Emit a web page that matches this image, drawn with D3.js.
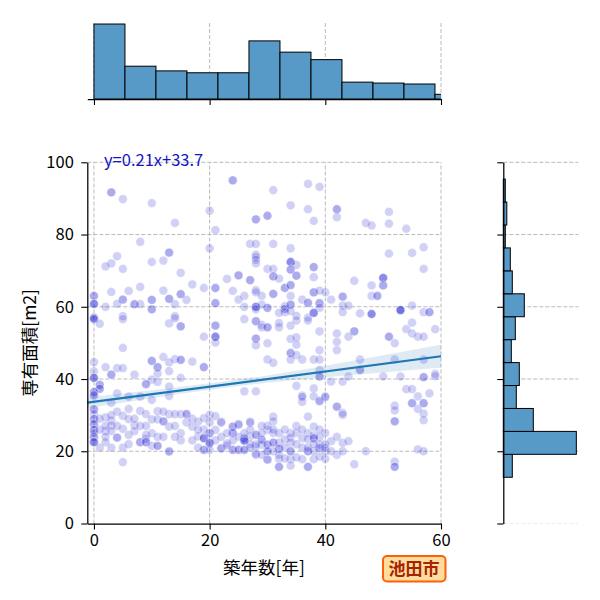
<!DOCTYPE html>
<html>
<head>
<meta charset="utf-8">
<script src="https://cdn.jsdelivr.net/npm/d3@7"></script>
<style>
  body { margin: 0; background: #fff; }
  text { font-family: "Noto Sans CJK JP", "Noto Sans", sans-serif; }
</style>
</head>
<body>
<div id="container"></div>
<script>
// 築年数[年], 専有面積[m2]
const samples = [
  [3,91.7],[3,91.7],[5,89.8],[10,88.7],[14,83.2],[20,86.6],[21,81.2],[24,95],[24,95],[28,84.2],[28,84.2],
  [30,85.2],[30,85.2],[31,92.3],[37,94],[39,93.2],[34,88.1],[37,87],[42,87],[42,87],[42,84.8],[38,83.8],
  [47,83.2],[51,86.3],[48,82.5],[51,83],[54,81.6],
  [8,78],[13,75],[13,75],[12,72.8],[10,72.4],[4,74],[3,72],[2,71.2],[5,70.5],[15,69.4],[20,76.2],[27,77.4],
  [28,77.4],[28,74.4],[28,73.8],[28,73],[28,72],[23,67.7],[25,68.7],[25,68.7],[27,67.4],[27,67.4],[17,66.2],
  [19,65.2],[21,65.2],[21,65.2],[24,64.4],[28,64.6],[28,64],[26,63],[25,62],[29,63],[3,64.1],[6,64.4],[8,65.5],
  [12,64.5],[15,63.5],[15,63.5],[13,62.2],[13,62.2],[16,61.9],[14,60.7],[10,61.9],[10,61.9],[10,59.3],[10,59.3],
  [5,62],[5,62],[4,60.8],[7,60.7],[7,60.7],[8,60.7],[2,60],[0,63],[0,63],[0,60.8],[0,60.8],[0,60.8],[21,61],
  [21,61],[26,60],[28,60],[28,60],[28,60],[28,59.3],[5,57.4],[14,57.4],[0,57],[0,57],
  [31,77.4],[34,76.2],[51,74.7],[55,74.9],[57,76.5],[57,70.5],[34,72.4],[34,72.4],[34,72.4],[34,70.3],[34,70.3],
  [35,71.6],[35,68.6],[35,68.6],[30,70.5],[31,70.5],[31,68.4],[31,68.4],[32,67.8],[38,71],[38,71],[38,68.2],
  [33,65.2],[33,65.2],[34,66],[34,66],[31,63.6],[31,63.6],[34,63],[36,62],[37,61.1],[37,61.1],[38,64],[38,64],
  [39,64.5],[40,64],[39,61],[39,61],[39,59.7],[41,62],[43,62.8],[43,62.8],[43,60.3],[44,60.3],[43,58.5],
  [45,67.2],[48,65.9],[50,68],[50,68],[50,68],[50,65.9],[50,65.9],[48,63],[49,63],[49,63],[46,58.2],[48,58],
  [48,58],[48,58],[53,59.1],[53,59.1],[53,59.1],[53,59.1],[55,60.3],[57,58.5],[58,58.5],[58,58.5],[30,59.7],
  [30,59.7],[29,60.6],[33,60.2],[33,59.4],[33,59.4],[33,58.5],[34,60.6],[34,60.6],[34,58.8],[32,58.3],[38,58.3],
  [38,58.3],[38,58.3],[35,57.5],[37,57],
  [0,56.6],[0,56.6],[1,55.3],[5,56.6],[13,55.4],[14,56.8],[15,54.6],[15,54.6],[21,54.8],[21,54.8],[21,51.7],
  [21,51.7],[21,51.7],[19,51.7],[21,50.1],[26,56.6],[28,56],[28,56],[29,55],[28,51.2],[28,51.2],[28,49.3],
  [5,48.6],[12,46.1],[14,45.5],[15,45.3],[15,45.3],[10,45],[10,45],[11,43.3],[11,43.3],[11,41.5],[13,44.6],
  [13,42.2],[17,44.8],[19,43.3],[19,43.3],[0,44.7],[0,42.1],[0,40.3],[0,40.3],[0,40.3],[2,43.3],[3,41.2],
  [3,41.2],[4,43],[5,43],[7,41.2],[10,39.8],[11,39.2],[15,40.3],[9,38.6],[9,38.6],[13,37.9],[1,38.4],[1,38.4],
  [1,37.3],[1,37.3],[0,36.4],[0,36.4],[0,35.5],[0,35.5],[4,36],[6,35.1],[8,35.1],[10,34.2],[13,35.3],[26,36.6],
  [28,36.6],[3,33.4],
  [29,54.3],[30,54.3],[30,54.3],[32,54.3],[32,55.5],[34,54.8],[35,56.2],[37,56.2],[39,53.2],[42,52.6],[45,53.2],
  [45,53.2],[44,51.7],[30,49.9],[34,51.1],[35,51.5],[35,49.5],[34,47.2],[34,47.2],[35,46.6],[36,45.4],[34,45.4],
  [38,45.4],[39,48],[39,45.4],[42,48],[42,50.3],[30,45.4],[31,44.5],[39,42.5],[39,40.7],[39,40.7],[41,39.3],
  [43,39.3],[44,40.7],[46,45.4],[46,42.5],[46,42.5],[50,40.7],[53,40.7],[57,40.5],[57,40.5],[59,41.4],[51,51.7],
  [51,51.7],[52,49.9],[54,53.8],[55,55.6],[55,52.6],[56,51.7],[57,51.7],[59,53.8],[52,45.4],[57,45.4],
  [35,38.1],[38,37.4],[38,35.2],[36,35.4],[36,33.7],[39,34],[40,35.2],[42,32.2],[43,30.6],[52,32.6],[52,31.3],
  [52,28.3],[52,28.3],[54,37.2],[55,37.2],[56,35.2],[55,33.3],[55,33.3],[57,33.3],[57,33.3],[58,36],[56,31.7],
  [57,30.4],[57,28.6],[59,40.8],[36,35],[40,35],[39,33.8],
  [0,31.6],[0,31.6],[0,30.3],[0,28.9],[0,28.9],[0,27.5],[0,27.5],[0,25.9],[0,25.9],[0,23.9],[0,23.9],[0,22.5],
  [0,22.5],[0,22.5],[0,25],[2,29.4],[3,28.5],[3,27.1],[4,31],[5,29.8],[6,31.7],[6,28.9],[2,25.6],[2,24],[3,25.6],
  [4,23.8],[4,23.8],[5,26.2],[6,24.5],[7,27.2],[7,25.6],[8,31.2],[9,30.3],[10,28.8],[11,31.1],[11,28.8],[12,28.3],
  [12,28.3],[13,30.3],[14,30.3],[13,26.8],[15,30.3],[16,30.3],[16,30.3],[8,22.5],[8,22.5],[9,24.5],[9,23.5],
  [9,22.5],[9,22.5],[10,21.5],[11,21.5],[11,21.5],[5,17],[13,20],[1,29],[2,22.5],[3,21],
  [1,26],[1,21],[2,27],[3,30],[4,27],[5,21],[6,22],[7,29],[8,27],[9,27],[10,25],[11,24],[12,31],[12,24],[14,27],
  [15,23],[15,25],[16,28],[17,29],[14,24],
  [17,26.8],[18,28.2],[19,29.2],[20,30.1],[21,29.7],[22,28.2],[18,24.1],[19,23.6],[19,23.6],[20,25],[20,22.2],
  [20,22.2],[24,26.8],[24,25],[25,27.3],[26,23.2],[26,23.2],[27,28.2],[27,24.1],[28,24.6],[29,23.2],[29,21.8],
  [28,21.3],[19,20.4],[19,20.4],[20,20.4],[22,20.8],[22,20.8],[24,20.4],[24,20.4],[25,20.4],[25,20.4],[26,20.4],
  [26,20.4],[23,22.2],[23,21.6],[13,19.9],[28,19.4],[30,17.8],
  [19,23.6],[20,25],[20,22.4],[21,25.9],[22,27.9],[24,26.8],[24,25.1],[25,27.5],[26,23.6],[26,22.9],[26,22.9],
  [27,27.9],[27,26],[28,24.5],[28,21.9],[29,23.1],[30,25.9],[30,21.8],[30,21.8],[31,29.6],[31,28.3],[31,25.1],
  [31,22.4],[31,22.4],[32,22.4],[32,20.7],[32,20.7],[33,23.3],[34,25],[34,23.8],[34,22.4],[35,25.1],[36,23.6],
  [37,29.6],[37,25],[37,23.3],[38,26.8],[38,24.4],[38,23.6],[38,23.6],[39,23.9],[39,21.9],[39,20.9],[39,20.9],
  [40,25.1],[41,22.8],[42,24],[43,22.3],[44,22.8],[42,32.4],[43,30.1],[28,19],[30,17.6],[32,17.9],[32,15.7],
  [32,15.7],[34,17.8],[34,16],[35,18.3],[36,17.8],[37,15.7],[37,15.7],[38,17.8],[39,18.5],[40,17.9],[42,19],
  [45,16.4],[52,17.1],[52,15.7],[52,15.7],[30,20],[34,20],[37,20],[37,20],[38,20],[40,20],[43,20],[47,20],
  [56,20.5],[57,20],
  [29,25],[30,27],[31,26],[32,25],[33,26],[33,21],[34,20],[35,22],[35,27],[36,21],[36,26],[37,21],[38,22],
  [39,26],[40,22],[40,21],[41,20],[30,20],[31,20],[32,19],[29,19],[33,18],[17,23],[18,21],[19,26],[21,23],
  [22,24],[23,25],[24,23],[25,24],[26,25],[27,22],[27,21],[29,27],[20,28],[18,26]
];

// marginal histograms (bin edges and counts)
const ageEdges = [0, 5.36, 10.72, 16.08, 21.44, 26.8, 32.16, 37.52, 42.88, 48.24, 53.6, 58.96, 64.32];
const ageCounts = [80, 35, 30, 28, 28, 62, 50, 42, 18, 17, 16, 5];
const areaEdges = [12.8, 19.15, 25.5, 31.85, 38.2, 44.55, 50.9, 57.25, 63.6, 69.95, 76.3, 82.65, 89.0, 95.35];
const areaCounts = [18, 146, 60, 26, 32, 16, 24, 42, 18, 14, 4, 7, 4];

// regression fit and its confidence band
const fitSlope = 0.21;
const fitIntercept = 33.7;
const bandX = [-1.15, 10, 20, 30, 40, 50, 60];
const bandHalf = [1.5, 1.1, 0.9, 1.0, 1.6, 2.4, 3.2];

const xTicks = [0, 20, 40, 60];
const yTicks = [0, 20, 40, 60, 80, 100];
const cityName = "池田市";

const W = 600, H = 600;
const svg = d3.select("#container").append("svg")
  .attr("width", W).attr("height", H);

const x = d3.scaleLinear().domain([-1.15, 60]).range([87.3, 441]);
const y = d3.scaleLinear().domain([0, 100]).range([523.5, 162.3]);

const gridStyle = sel => sel.attr("stroke", "#a8a8a8").attr("stroke-width", 0.8)
  .attr("stroke-dasharray", "4,2");

// ---- main axes ----
const mainG = svg.append("g");
mainG.selectAll(".gx").data(xTicks).enter().append("line")
  .attr("x1", d => x(d)).attr("x2", d => x(d)).attr("y1", y(0)).attr("y2", y(100))
  .call(gridStyle);
mainG.selectAll(".gy").data(yTicks.slice(1)).enter().append("line")
  .attr("x1", x.range()[0]).attr("x2", x.range()[1]).attr("y1", d => y(d)).attr("y2", d => y(d))
  .call(gridStyle);

mainG.selectAll("circle").data(samples).enter().append("circle")
  .attr("cx", d => x(d[0])).attr("cy", d => y(d[1])).attr("r", 4.4)
  .attr("fill", "mediumblue").attr("fill-opacity", 0.18)
  .attr("stroke", "#fff").attr("stroke-opacity", 0.35).attr("stroke-width", 0.8);

const band = d3.area()
  .x(d => x(d))
  .y0((d, i) => y(fitSlope * d + fitIntercept - bandHalf[i]))
  .y1((d, i) => y(fitSlope * d + fitIntercept + bandHalf[i]))
  .curve(d3.curveMonotoneX);
mainG.append("path").datum(bandX).attr("d", band)
  .attr("fill", "#1f77b4").attr("fill-opacity", 0.15);

const xd = x.domain();
mainG.append("line")
  .attr("x1", x(xd[0])).attr("y1", y(fitSlope * xd[0] + fitIntercept))
  .attr("x2", x(xd[1])).attr("y2", y(fitSlope * xd[1] + fitIntercept))
  .attr("stroke", "#1f77b4").attr("stroke-width", 2.2);

mainG.append("text").attr("x", 104).attr("y", 166)
  .attr("font-size", 16.5).attr("fill", "#1414c4")
  .text(`y=${fitSlope}x+${fitIntercept}`);

const styleAxis = g => {
  g.selectAll("path").attr("stroke", "#000").attr("stroke-width", 1.25);
  g.selectAll("line").attr("stroke", "#000").attr("stroke-width", 1.1);
  g.selectAll("text").attr("font-size", 16.5).attr("fill", "#000")
    .attr("font-family", '"Noto Sans CJK JP", "Noto Sans", sans-serif');
};

mainG.append("g").attr("transform", `translate(0,${y(0)})`)
  .call(d3.axisBottom(x).tickValues(xTicks).tickSize(6).tickSizeOuter(0).tickPadding(5))
  .call(styleAxis);
mainG.append("g").attr("transform", `translate(${x.range()[0]},0)`)
  .call(d3.axisLeft(y).tickValues(yTicks).tickSize(6).tickSizeOuter(0).tickPadding(7.5))
  .call(styleAxis);

svg.append("text").attr("x", 264).attr("y", 574).attr("text-anchor", "middle")
  .attr("font-size", 17.5).text("築年数[年]");
svg.append("text").attr("transform", `translate(36,${(y(0) + y(100)) / 2}) rotate(-90)`)
  .attr("text-anchor", "middle").attr("font-size", 17.5).text("専有面積[m2]");

// ---- top marginal ----
const topY = d3.scaleLinear().domain([0, d3.max(ageCounts) * 1.027]).range([99, 22]);
const topG = svg.append("g");
const clipTop = svg.append("clipPath").attr("id", "cliptop");
clipTop.append("rect").attr("x", x.range()[0]).attr("y", 0)
  .attr("width", x.range()[1] - x.range()[0]).attr("height", 100);
topG.selectAll(".gx").data(xTicks).enter().append("line")
  .attr("x1", d => x(d)).attr("x2", d => x(d)).attr("y1", topY.range()[0]).attr("y2", topY.range()[1])
  .call(gridStyle);
topG.append("g").attr("clip-path", "url(#cliptop)")
  .selectAll("rect").data(ageCounts).enter().append("rect")
  .attr("x", (d, i) => x(ageEdges[i])).attr("width", (d, i) => x(ageEdges[i + 1]) - x(ageEdges[i]))
  .attr("y", d => topY(d)).attr("height", d => topY(0) - topY(d))
  .attr("fill", "#5799c7").attr("stroke", "#000").attr("stroke-width", 1);
topG.append("g").attr("transform", "translate(0,99)")
  .call(d3.axisBottom(x).tickValues(xTicks).tickSize(6).tickSizeOuter(0).tickFormat(""))
  .call(styleAxis);

// ---- right marginal ----
const rightX = d3.scaleLinear().domain([0, d3.max(areaCounts) * 1.027]).range([503.3, 578.3]);
const rightG = svg.append("g");
rightG.selectAll(".gy").data(yTicks).enter().append("line")
  .attr("x1", rightX.range()[0]).attr("x2", rightX.range()[1]).attr("y1", d => y(d)).attr("y2", d => y(d))
  .call(gridStyle).attr("stroke-opacity", d => d === 0 ? 0.25 : 1);
rightG.selectAll("rect").data(areaCounts).enter().append("rect")
  .attr("x", rightX(0)).attr("width", d => rightX(d) - rightX(0))
  .attr("y", (d, i) => y(areaEdges[i + 1])).attr("height", (d, i) => y(areaEdges[i]) - y(areaEdges[i + 1]))
  .attr("fill", "#5799c7").attr("stroke", "#000").attr("stroke-width", 1);
rightG.append("g").attr("transform", `translate(${rightX(0)},0)`)
  .call(d3.axisLeft(y).tickValues(yTicks).tickSize(6).tickSizeOuter(0).tickFormat(""))
  .call(styleAxis);

// ---- city tag ----
const tag = svg.append("g");
tag.append("rect").attr("x", 383).attr("y", 556).attr("width", 62.5).attr("height", 25.5)
  .attr("rx", 4).attr("fill", "#ffdd9c").attr("stroke", "#ff5f0a").attr("stroke-width", 2);
tag.append("text").attr("x", 414).attr("y", 575).attr("text-anchor", "middle")
  .attr("font-size", 17).attr("font-weight", "bold").attr("fill", "#a82400").text(cityName);
</script>
</body>
</html>
